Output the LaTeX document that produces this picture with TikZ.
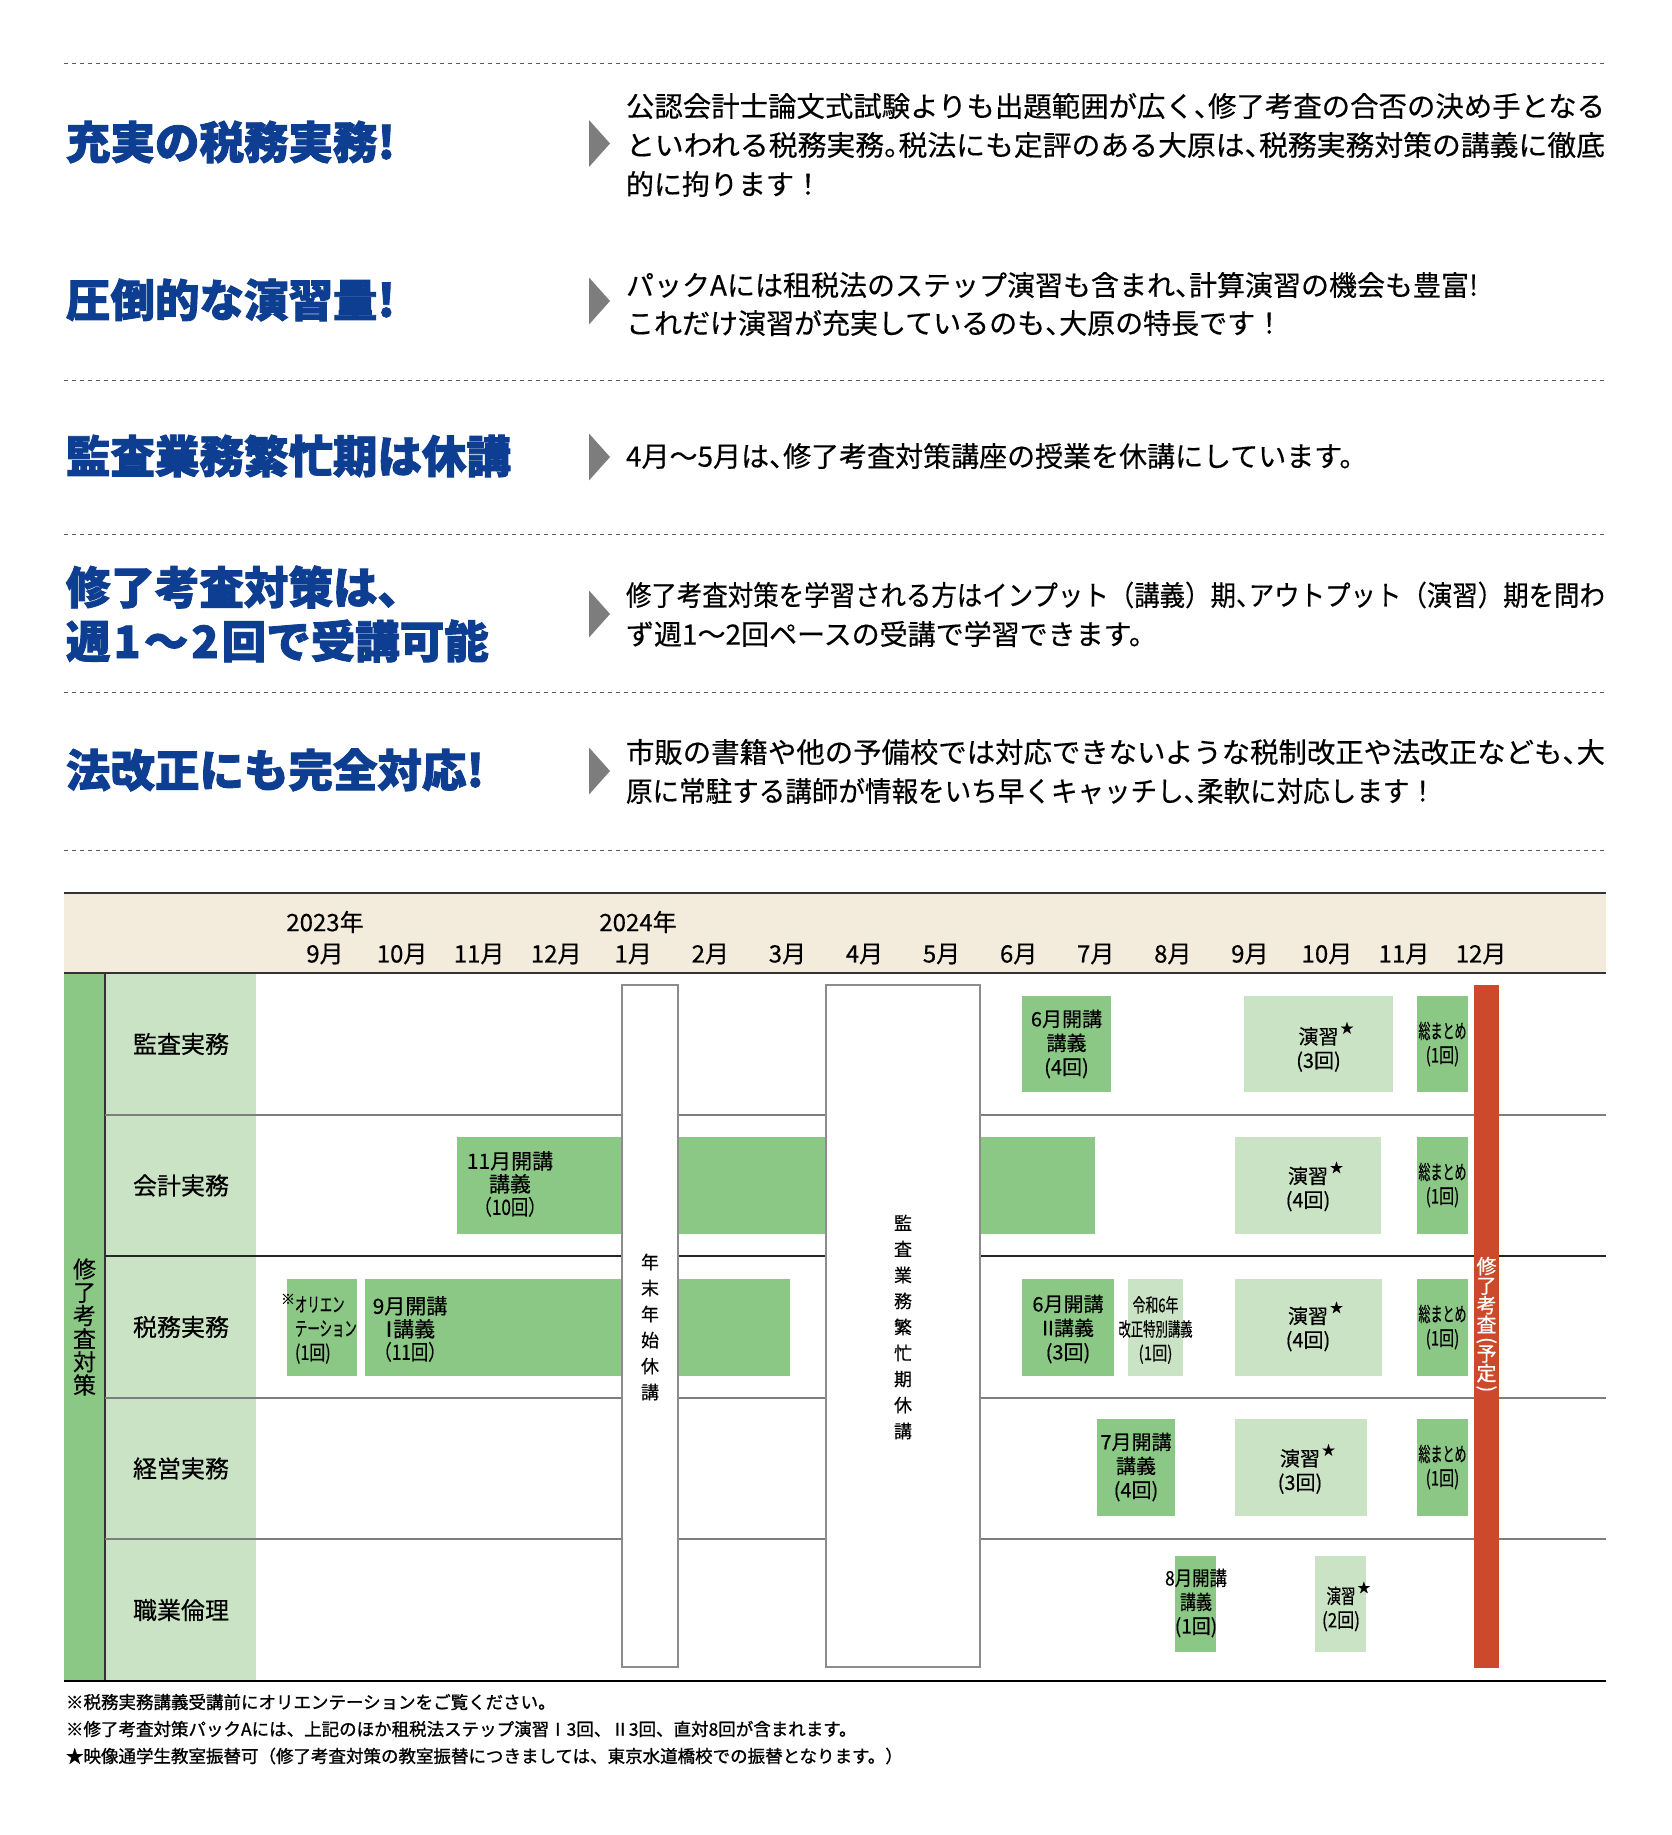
\documentclass[tikz,border=0pt]{standalone}
\usepackage{fontspec}
\usepackage{graphicx}
\setmainfont{Noto Sans CJK JP}[FakeBold=0.4]
\newfontfamily\hfont{Noto Sans CJK JP}[BoldFeatures={FakeBold=2.0}]
\newfontfamily\ffont{Noto Sans CJK JP}[FakeBold=1.1]
\definecolor{hblue}{RGB}{13,62,145}
\definecolor{dkgreen}{RGB}{139,199,133}
\definecolor{ltgreen}{RGB}{202,227,196}
\definecolor{hdrbg}{RGB}{243,236,220}
\definecolor{exred}{RGB}{204,74,43}
\definecolor{trigray}{RGB}{125,125,125}
\definecolor{dashgray}{RGB}{90,90,90}
\definecolor{sepgray}{RGB}{125,125,125}
\definecolor{boxgray}{RGB}{140,140,140}
\newcommand\fs[2]{\fontsize{#1}{#2}\selectfont}
\newcommand\tight{\lineskiplimit-50pt\relax}
\newcommand\fullline[1]{\resizebox{979pt}{\height}{#1}}
\newcommand\tn{\makebox[0.5em][l]{、}}
\newcommand\mr{\makebox[0.5em][l]{。}}
\newcommand\nI{\makebox[0.4em]{Ⅰ}}
\newcommand\nII{\makebox[0.6em]{Ⅱ}}
\newcommand\wdig[1]{\makebox[0.75em]{#1}}
\newcommand\st{\rlap{\hspace{2pt}\raisebox{11pt}{\fs{13}{13}★}}}
\newcommand\sx[2]{\scalebox{#1}[1]{#2}}
\begin{document}
\begin{tikzpicture}[x=1pt,y=-1pt,
  every node/.style={inner sep=0pt,outer sep=0pt},
  dashsep/.style={draw=dashgray,line width=1pt,dash pattern=on 4pt off 4pt},
  hl/.style={font=\hfont\bfseries\fs{44.5}{50},text=hblue,anchor=west},
  body/.style={font=\fs{28}{34},anchor=west},
  tri/.style={fill=trigray},
  mon/.style={font=\fs{24}{28}},
  rowlab/.style={font=\fs{24}{28}},
  dkbox/.style={fill=dkgreen},
  ltbox/.style={fill=ltgreen},
  wtbox/.style={fill=white,draw=boxgray,line width=1.5pt},
  sep/.style={draw=sepgray,line width=1.5pt},
  bt/.style={font=\fs{20}{24}\tight,align=center},
  btl/.style={font=\fs{21}{23}\tight,align=center},
  vt/.style={font=\fs{18}{26}\tight,align=center},
  foot/.style={font=\ffont\fs{17.5}{20},anchor=west}]
\useasboundingbox (0,0) rectangle (1671,1835);
\fill[white] (0,0) rectangle (1671,1835);

% ---------- top section ----------
\foreach \yy in {64,380,534,692,850} \draw[dashsep] (64,\yy) -- (1606,\yy);

\node[hl] (h1) at (66,142) {充実の税務実務!};
\node[hl] (h2) at (66,300) {圧倒的な演習量!};
\node[hl] (h3) at (66,456) {監査業務繁忙期は休講};
\node[hl] (h4a) at (66,587) {修了考査対策は、};
\node[hl] (h4b) at (66,641) {週\wdig{1}～\wdig{2}回で受講可能};
\node[hl] (h5) at (66,770) {法改正にも完全対応!};

\foreach \c in {143.5,301,457,614,771}
  \fill[tri] (589,\c-23.5) -- (610,\c) -- (589,\c+23.5) -- cycle;

\node[body] (b1a) at (626,106) {\fullline{公認会計士論文式試験よりも出題範囲が広く\tn 修了考査の合否の決め手となる}};
\node[body] (b1b) at (626,145) {\fullline{といわれる税務実務\mr 税法にも定評のある大原は\tn 税務実務対策の講義に徹底}};
\node[body] (b1c) at (626,184) {的に拘ります！};
\node[body] (b2a) at (626,285) {パックAには租税法のステップ演習も含まれ\tn 計算演習の機会も豊富!};
\node[body] (b2b) at (626,323) {これだけ演習が充実しているのも\tn 大原の特長です！};
\node[body] (b3a) at (626,456) {4月～5月は\tn 修了考査対策講座の授業を休講にしています。};
\node[body] (b4a) at (626,595) {\fullline{修了考査対策を学習される方はインプット（講義）期\tn アウトプット（演習）期を問わ}};
\node[body] (b4b) at (626,634) {ず週1～2回ペースの受講で学習できます。};
\node[body] (b5a) at (626,752) {\fullline{市販の書籍や他の予備校では対応できないような税制改正や法改正なども\tn 大}};
\node[body] (b5b) at (626,791) {\resizebox{810pt}{\height}{原に常駐する講師が情報をいち早くキャッチし\tn 柔軟に対応します！}};

% ---------- chart frame ----------
\fill[hdrbg] (64,893) rectangle (1606,973);
\fill[dkgreen] (64,973) rectangle (105,1681);
\fill[ltgreen] (105,973) rectangle (256,1681);
\draw[black!80,line width=1.2pt] (105,973) -- (105,1681);
\foreach \yy in {1115,1398,1539} \draw[sep] (105,\yy) -- (1606,\yy);
\draw[black!85,line width=1.2pt] (105,1256) -- (1606,1256);
\draw[black!80,line width=2pt] (64,893) -- (1606,893);
\draw[black!80,line width=2pt] (64,973) -- (1606,973);
\draw[black,line width=2.5pt] (64,1681) -- (1606,1681);

% header
\node[mon] (y23) at (325,922) {2023年};
\node[mon] (y24) at (638,922) {2024年};
\foreach \m [count=\i from 0] in {9月,10月,11月,12月,1月,2月,3月,4月,5月,6月,7月,8月,9月,10月,11月,12月}
  \node[mon] (m\i) at (325+77.07*\i,954) {\m};

% row labels
\node[rowlab] (r1) at (181,1044) {監査実務};
\node[rowlab] (r2) at (181,1185.5) {会計実務};
\node[rowlab] (r3) at (181,1327) {税務実務};
\node[rowlab] (r4) at (181,1468.5) {経営実務};
\node[rowlab] (r5) at (181,1610) {職業倫理};
\node[font=\fs{23}{23.2}\tight,align=center] (strip) at (84.5,1327) {修\\了\\考\\査\\対\\策};

% ---------- bars and boxes ----------
% row 1
\fill[dkbox] (1022,996) rectangle (1111,1092);
\fill[ltbox] (1244,996) rectangle (1393,1092);
\fill[dkbox] (1417,996) rectangle (1468,1092);
% row 2
\fill[dkbox] (457,1137) rectangle (1095,1234);
\fill[ltbox] (1235,1137) rectangle (1381,1234);
\fill[dkbox] (1417,1137) rectangle (1468,1234);
% row 3
\fill[dkbox] (287,1279) rectangle (357,1376);
\fill[dkbox] (365,1279) rectangle (790,1376);
\fill[dkbox] (1022,1279) rectangle (1114,1376);
\fill[ltbox] (1128,1279) rectangle (1183,1376);
\fill[ltbox] (1235,1279) rectangle (1382,1376);
\fill[dkbox] (1417,1279) rectangle (1468,1376);
% row 4
\fill[dkbox] (1097,1419) rectangle (1175,1516);
\fill[ltbox] (1235,1419) rectangle (1367,1516);
\fill[dkbox] (1417,1419) rectangle (1468,1516);
% row 5
\fill[dkbox] (1175,1556) rectangle (1216,1652);
\fill[ltbox] (1315,1556) rectangle (1366,1652);

% breaks
\draw[wtbox] (622,985) rectangle (678,1667);
\draw[wtbox] (826,985) rectangle (980,1667);
\fill[exred] (1474,985) rectangle (1499,1668);

\node[vt] (yearend) at (650,1327) {年\\末\\年\\始\\休\\講};
\node[vt] (busy) at (903,1327) {監\\査\\業\\務\\繁\\忙\\期\\休\\講};
\node[font=\fs{20}{19.5}\tight,align=center,text=white] (exam) at (1486.5,1326)
  {修\\了\\考\\査\\[-5pt]\rotatebox[origin=c]{-90}{(}\\[-5pt]予\\定\\[-5pt]\rotatebox[origin=c]{-90}{)}};

% ---------- box texts ----------
% row 1
\node[bt] (t11) at (1066.5,1044) {6月開講\\講義\\(4回)};
\node[bt] (t12) at (1318.5,1047) {演習\st\\(3回)};
\node[bt] (t13) at (1442.5,1044) {\sx{0.6}{総まとめ}\\\sx{0.75}{(1回)}};
% row 2
\node[btl] (t21) at (510,1184) {11月開講\\講義\\\sx{0.82}{（10回）}};
\node[bt] (t22) at (1308,1186.5) {演習\st\\(4回)};
\node[bt] (t23) at (1442.5,1185) {\sx{0.6}{総まとめ}\\\sx{0.75}{(1回)}};
% row 3
\node[font=\fs{14}{14}] (t30n) at (288,1299) {※};
\node[font=\fs{20}{24}\tight,align=left,anchor=west] (t30) at (295,1330)
  {\sx{0.62}{オリエン}\\\sx{0.62}{テーション}\\\sx{0.8}{(1回)}};
\node[btl] (t31) at (410,1329) {9月開講\\\nI 講義\\\sx{0.82}{（11回）}};
\node[bt] (t32) at (1068,1329) {6月開講\\\nII 講義\\(3回)};
\node[font=\fs{19}{24}\tight,align=center] (t33) at (1155.5,1330)
  {\sx{0.68}{令和6年}\\\sx{0.65}{改正特別講義}\\\sx{0.8}{(1回)}};
\node[bt] (t34) at (1308,1326.5) {演習\st\\(4回)};
\node[bt] (t35) at (1442.5,1327) {\sx{0.6}{総まとめ}\\\sx{0.75}{(1回)}};
% row 4
\node[bt] (t41) at (1136,1467) {7月開講\\講義\\(4回)};
\node[bt] (t42) at (1300,1469) {演習\st\\(3回)};
\node[bt] (t43) at (1442.5,1467) {\sx{0.6}{総まとめ}\\\sx{0.75}{(1回)}};
% row 5
\node[bt] (t51) at (1196,1603) {\sx{0.87}{8月開講}\\\sx{0.8}{講義}\\\sx{0.95}{(1回)}};
\node[bt] (t52) at (1341,1606.5) {\sx{0.72}{演習}\st\\\sx{0.85}{(2回)}};

% ---------- footnotes ----------
\node[foot] (f1) at (66,1702) {※税務実務講義受講前にオリエンテーションをご覧ください。};
\node[foot] (f2) at (66,1729) {※修了考査対策パックAには、上記のほか租税法ステップ演習Ⅰ3回、Ⅱ3回、直対8回が含まれます。};
\node[foot] (f3) at (66,1756) {★映像通学生教室振替可（修了考査対策の教室振替につきましては、東京水道橋校での振替となります。）};
\end{tikzpicture}
\end{document}
